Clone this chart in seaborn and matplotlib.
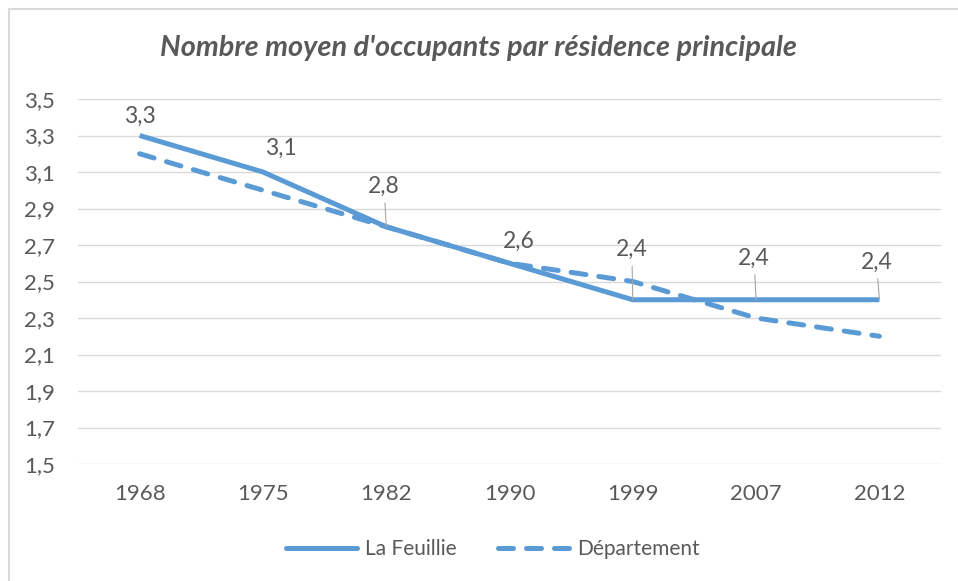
import matplotlib
matplotlib.use("Agg")
import matplotlib.pyplot as plt
import seaborn as sns
import pandas as pd
from matplotlib.patches import Rectangle
from matplotlib.lines import Line2D

years = ["1968", "1975", "1982", "1990", "1999", "2007", "2012"]
la_feuillie = [3.3, 3.1, 2.8, 2.6, 2.4, 2.4, 2.4]
departement = [3.2, 3.0, 2.8, 2.6, 2.5, 2.3, 2.2]
series_names = ["La Feuillie", "Département"]
yticks = [1.5, 1.7, 1.9, 2.1, 2.3, 2.5, 2.7, 2.9, 3.1, 3.3, 3.5]
title = "Nombre moyen d'occupants par résidence principale"

sns.set_theme(style="white")
plt.rcParams['font.family'] = ['Lato', 'DejaVu Sans']

BLUE = "#5B9BD5"
GRAY = "#595959"
LW = 3.6
DASH = [3.0, 2.6]

fig = plt.figure(figsize=(9.58, 5.81), dpi=100)
ax = fig.add_axes([78/958, 1-464/581, (941-78)/958, (464-99)/581])

x = list(range(len(years)))
df = pd.DataFrame({"x": x * 2,
                   "y": la_feuillie + departement,
                   "serie": [series_names[0]] * len(years) + [series_names[1]] * len(years)})

sns.lineplot(data=df[df.serie == series_names[0]], x="x", y="y", ax=ax,
             color=BLUE, lw=LW, solid_capstyle="butt", legend=False)
sns.lineplot(data=df[df.serie == series_names[1]], x="x", y="y", ax=ax,
             color=BLUE, lw=LW, legend=False)
ax.lines[1].set_dashes(DASH)
ax.lines[1].set_dash_capstyle("round")

ax.set_xlim(-0.5, len(years) - 0.5)
ax.set_ylim(1.5, 3.5)
ax.set_yticks(yticks)
ax.set_yticklabels([f"{v:.1f}".replace(".", ",") for v in yticks])
ax.set_xticks(x)
ax.set_xticklabels(years)
ax.set_xlabel("")
ax.set_ylabel("")
ax.grid(axis="y", color="#D9D9D9", lw=1.0)
ax.grid(axis="x", visible=False)
for s in ax.spines.values():
    s.set_visible(False)
ax.tick_params(axis="both", length=0, labelsize=16, labelcolor=GRAY)
ax.tick_params(axis="y", pad=16.5)
ax.tick_params(axis="x", pad=14.5)
ax.set_axisbelow(True)

# data labels (offsets in points, centre of label relative to point)
offsets = [(0, 14, False), (13, 17, False), (-1.5, 29, True), (7, 16, False),
           (-0.7, 36, True), (-1.5, 30, True), (-2, 27, True)]
for i, (dx, dy, lead) in enumerate(offsets):
    val = la_feuillie[i]
    ax.annotate(f"{val:.1f}".replace(".", ","), xy=(i, val),
                xytext=(dx, dy), textcoords="offset points",
                ha="center", va="center", fontsize=16.5, color=GRAY,
                arrowprops=dict(arrowstyle="-", color="#A6A6A6", lw=0.8,
                                shrinkA=2, shrinkB=0) if lead else None)

fig.text(0.5, 1-48/581, title, ha="center", va="center", fontsize=20.8,
         fontstyle="italic", fontweight="bold", color=GRAY)

handles = [Line2D([], [], color=BLUE, lw=LW),
           Line2D([], [], color=BLUE, lw=LW, dashes=DASH, dash_capstyle="round")]
fig.legend(handles, series_names, loc="center", bbox_to_anchor=(493/958, 1-549/581),
           ncol=2, frameon=False, fontsize=15, labelcolor=GRAY,
           handlelength=3.4, columnspacing=2.0, handletextpad=0.4)

fig.patches.append(Rectangle((9/958, -0.1), 1.2, 1 - 9/581 + 0.1,
                             transform=fig.transFigure, fill=False,
                             edgecolor="#D9D9D9", lw=1.5))

fig.savefig("out.png", dpi=100)
